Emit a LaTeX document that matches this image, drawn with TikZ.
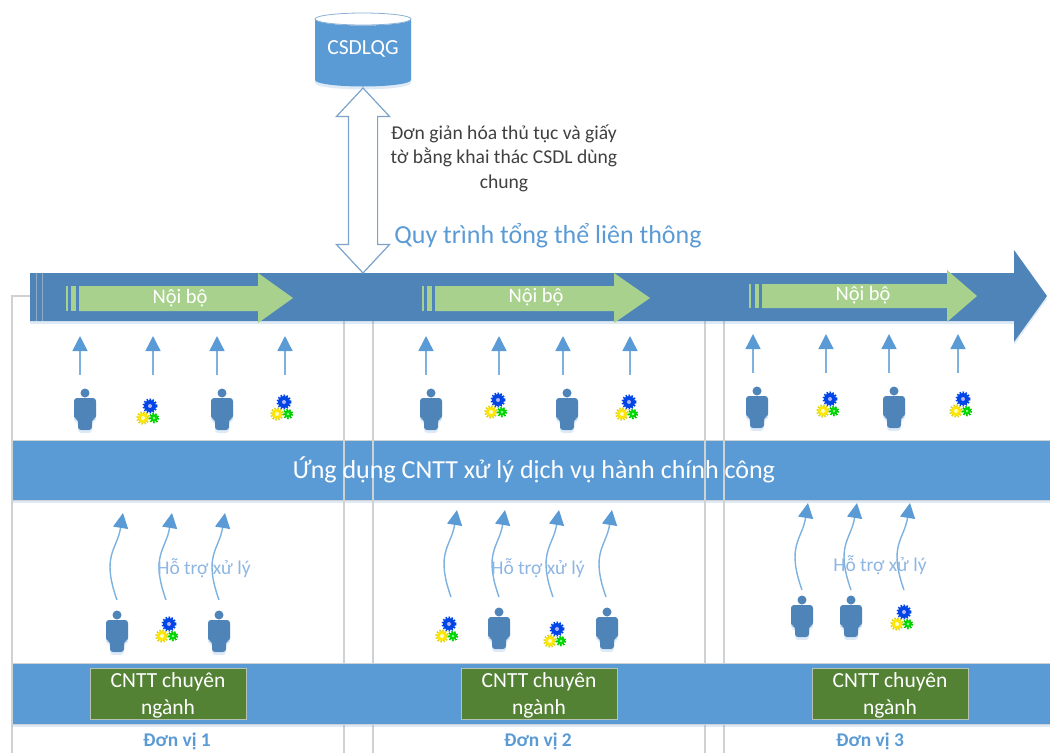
\documentclass[tikz,border=0pt]{standalone}
\usepackage{fontspec}
\setmainfont{Carlito}
\usetikzlibrary{arrows.meta,shapes.arrows,shadows}

\definecolor{bandblue}{HTML}{5B9BD5}
\definecolor{barblue}{HTML}{4F84B9}
\definecolor{flowblue}{HTML}{7DB1E0}
\definecolor{edgegray}{HTML}{CFD2D4}
\definecolor{leafgreen}{HTML}{A9D18E}
\definecolor{boxgreen}{HTML}{548235}
\definecolor{capblue}{HTML}{8DB6E2}

\begin{document}
\begin{tikzpicture}[
        x=1pt,y=-1pt,
        softshadow/.style={drop shadow={shadow xshift=0pt,shadow yshift=-3pt,opacity=.2,fill=bandblue}},
        band/.style={fill=bandblue,draw=edgegray,line width=1pt,minimum width=1038pt,inner sep=0pt,softshadow},
        frame/.style={draw=edgegray,line width=1.4pt},
        flow/.style={draw=flowblue,line width=1.4pt,-{Triangle[length=15pt,width=15pt,color=bandblue]}},
        inner/.style={fill=leafgreen},
        unitbox/.style={fill=boxgreen,draw=edgegray!80!boxgreen,line width=1pt,minimum width=156pt,minimum height=51pt,inner sep=0pt,
            text=white,align=center,font=\fontsize{21.5}{27}\selectfont},
        noibo/.style={text=white,font=\fontsize{20.5}{24}\selectfont},
        hotro/.style={text=capblue,font=\fontsize{19.5}{24}\selectfont},
        donvi/.style={text=bandblue,font=\fontsize{19.4}{24}\selectfont\bfseries},
        person/.pic={
            \fill[barblue] (0,5) circle[radius=4.5];
            \fill[barblue,rounded corners=3pt,softshadow] (-11,10) -- (11,10) -- (11,31) -- (7,31) -- (7,42) -- (-7,42) -- (-7,31) -- (-11,31) -- cycle;
        },
        cog/.style={line width=2pt,dash pattern=on 1.5pt off 1.5pt},
        gears/.pic={
            \fill[blue!70!cyan!90!black] (2,-6) circle[radius=6];
            \draw[cog,blue!70!cyan!90!black] (2,-6) circle[radius=6.5];
            \fill[white!70!blue] (2,-6) circle[radius=2];
            \fill[yellow!90!orange] (-5,6) circle[radius=5.2];
            \draw[cog,yellow!85!black] (-5,6) circle[radius=5.7];
            \fill[white!80!yellow] (-5,6) circle[radius=2];
            \fill[green!85!black] (6,6) circle[radius=3.8];
            \draw[cog,green!80!black] (6,6) circle[radius=4.3];
            \fill[white!60!green] (6,6) circle[radius=1.3];
        }]

    \useasboundingbox (0,0) rectangle (1050,753);

    \node[band,minimum height=60pt] (appband) at (531,470) {};

    \draw[frame] (12,753) -- (12,296) -- (30,296);
    \draw[frame] (344,296) -- (344,753);
    \draw[frame] (373,296) -- (373,753);
    \draw[frame] (705,296) -- (705,753);
    \draw[frame] (724,296) -- (724,753);

    \node[band,minimum height=61pt] (itband) at (531,693.5) {};

    \node[text=white,font=\fontsize{26}{30}\selectfont] (apptext) at (534,470) {Ứng dụng CNTT xử lý dịch vụ hành chính công};

    \fill[barblue,softshadow] (30,273) -- (1014,273) -- (1014,250) -- (1047,296) -- (1014,342) -- (1014,321) -- (30,321) -- cycle;
    \draw[edgegray!50!barblue,line width=.8pt] (36,273) -- (36,321);
    \draw[edgegray!50!barblue,line width=.8pt] (42,273) -- (42,321);

    \fill[inner] (66,286) rectangle (68,311);
    \fill[inner] (71,286) rectangle (76,311);
    \fill[inner] (79,286) -- (258,286) -- (258,273) -- (293,298) -- (258,323) -- (258,311) -- (79,311) -- cycle;
    \fill[inner] (422,286) rectangle (424,311);
    \fill[inner] (427,286) rectangle (432,311);
    \fill[inner] (435,286) -- (614,286) -- (614,273) -- (650,298) -- (614,323) -- (614,311) -- (435,311) -- cycle;
    \fill[inner] (749,284) rectangle (751,308);
    \fill[inner] (755,284) rectangle (759,308);
    \fill[inner] (762,284) -- (947,284) -- (947,270) -- (977,296) -- (947,322) -- (947,308) -- (762,308) -- cycle;

    \node[noibo] (inner1) at (180,298) {Nội bộ};
    \node[noibo] (inner2) at (536,297) {Nội bộ};
    \node[noibo] (inner3) at (863,295) {Nội bộ};

    \fill[bandblue,softshadow] (315,19) arc[start angle=180,end angle=0,x radius=48,y radius=6.5] -- (411,80) arc[start angle=0,end angle=180,x radius=48,y radius=6.5] -- cycle;
    \draw[edgegray!40!bandblue,line width=.8pt] (363,19) ellipse[x radius=48,y radius=6];
    \node[text=white,font=\fontsize{21.5}{26}\selectfont] (csdl) at (363,49) {CSDLQG};

    \node[double arrow,rotate=90,minimum height=185pt,double arrow head extend=12pt,double arrow tip angle=86,
        inner sep=0pt,fill=white,draw=barblue!75!white,line width=1.2pt] (link) at (363,180.5) {\rule{0pt}{28pt}};

    \node[text=black!75,align=center,font=\fontsize{19.6}{24.5}\selectfont] (note) at (504,158) {Đơn giản hóa thủ tục và giấy\\tờ bằng khai thác CSDL dùng\\chung};
    \node[text=bandblue,font=\fontsize{26}{30}\selectfont] (quytrinh) at (548,236) {Quy trình tổng thể liên thông};

    \foreach \i/\x/\y in {1/80/375,2/153/375,3/217/375,4/285/375,5/426/375,6/499/375,7/563/375,8/630/375,9/753/373,10/826/373,11/889/373,12/958/373} {
        \coordinate (from\i) at (\x,\y);
        \coordinate (to\i) at (\x,\y-39);
        \draw[flow] (from\i) -- (to\i);
    }

    \foreach \i/\x/\y in {1/117/600,2/166/600,3/219/600,4/451/597,5/499/597,6/553/597,7/606/597,8/802/590,9/851/590,10/904/590} {
        \coordinate (base\i) at (\x,\y);
        \coordinate (tip\i) at (\x+6,\y-87);
        \draw[flow] (base\i) .. controls +(-16,-45) and +(-6,37) .. (tip\i);
    }

    \foreach \x/\y in {85/388,222/388,431/388,567/388,757/386,894/386,117/610,219/610,499/607,607/607,802/595,851/595}
        \pic at (\x,\y) {person};
    \foreach \x/\y in {148/412,282/408,496/406,627/408,828/405,961/405,167/630,447/630,555/635,902/618}
        \pic at (\x,\y) {gears};

    \node[hotro] (help1) at (204,568) {Hỗ trợ xử lý};
    \node[hotro] (help2) at (538,568) {Hỗ trợ xử lý};
    \node[hotro] (help3) at (880,565) {Hỗ trợ xử lý};

    \node[unitbox] (unit1) at (168,693.5) {\rule{0pt}{18pt}CNTT chuyên\\ngành};
    \node[unitbox] (unit2) at (539,693.5) {\rule{0pt}{18pt}CNTT chuyên\\ngành};
    \node[unitbox] (unit3) at (890,693.5) {\rule{0pt}{18pt}CNTT chuyên\\ngành};

    \node[donvi] (name1) at (177,741) {Đơn vị 1};
    \node[donvi] (name2) at (538,741) {Đơn vị 2};
    \node[donvi] (name3) at (870,741) {Đơn vị 3};
\end{tikzpicture}
\end{document}
